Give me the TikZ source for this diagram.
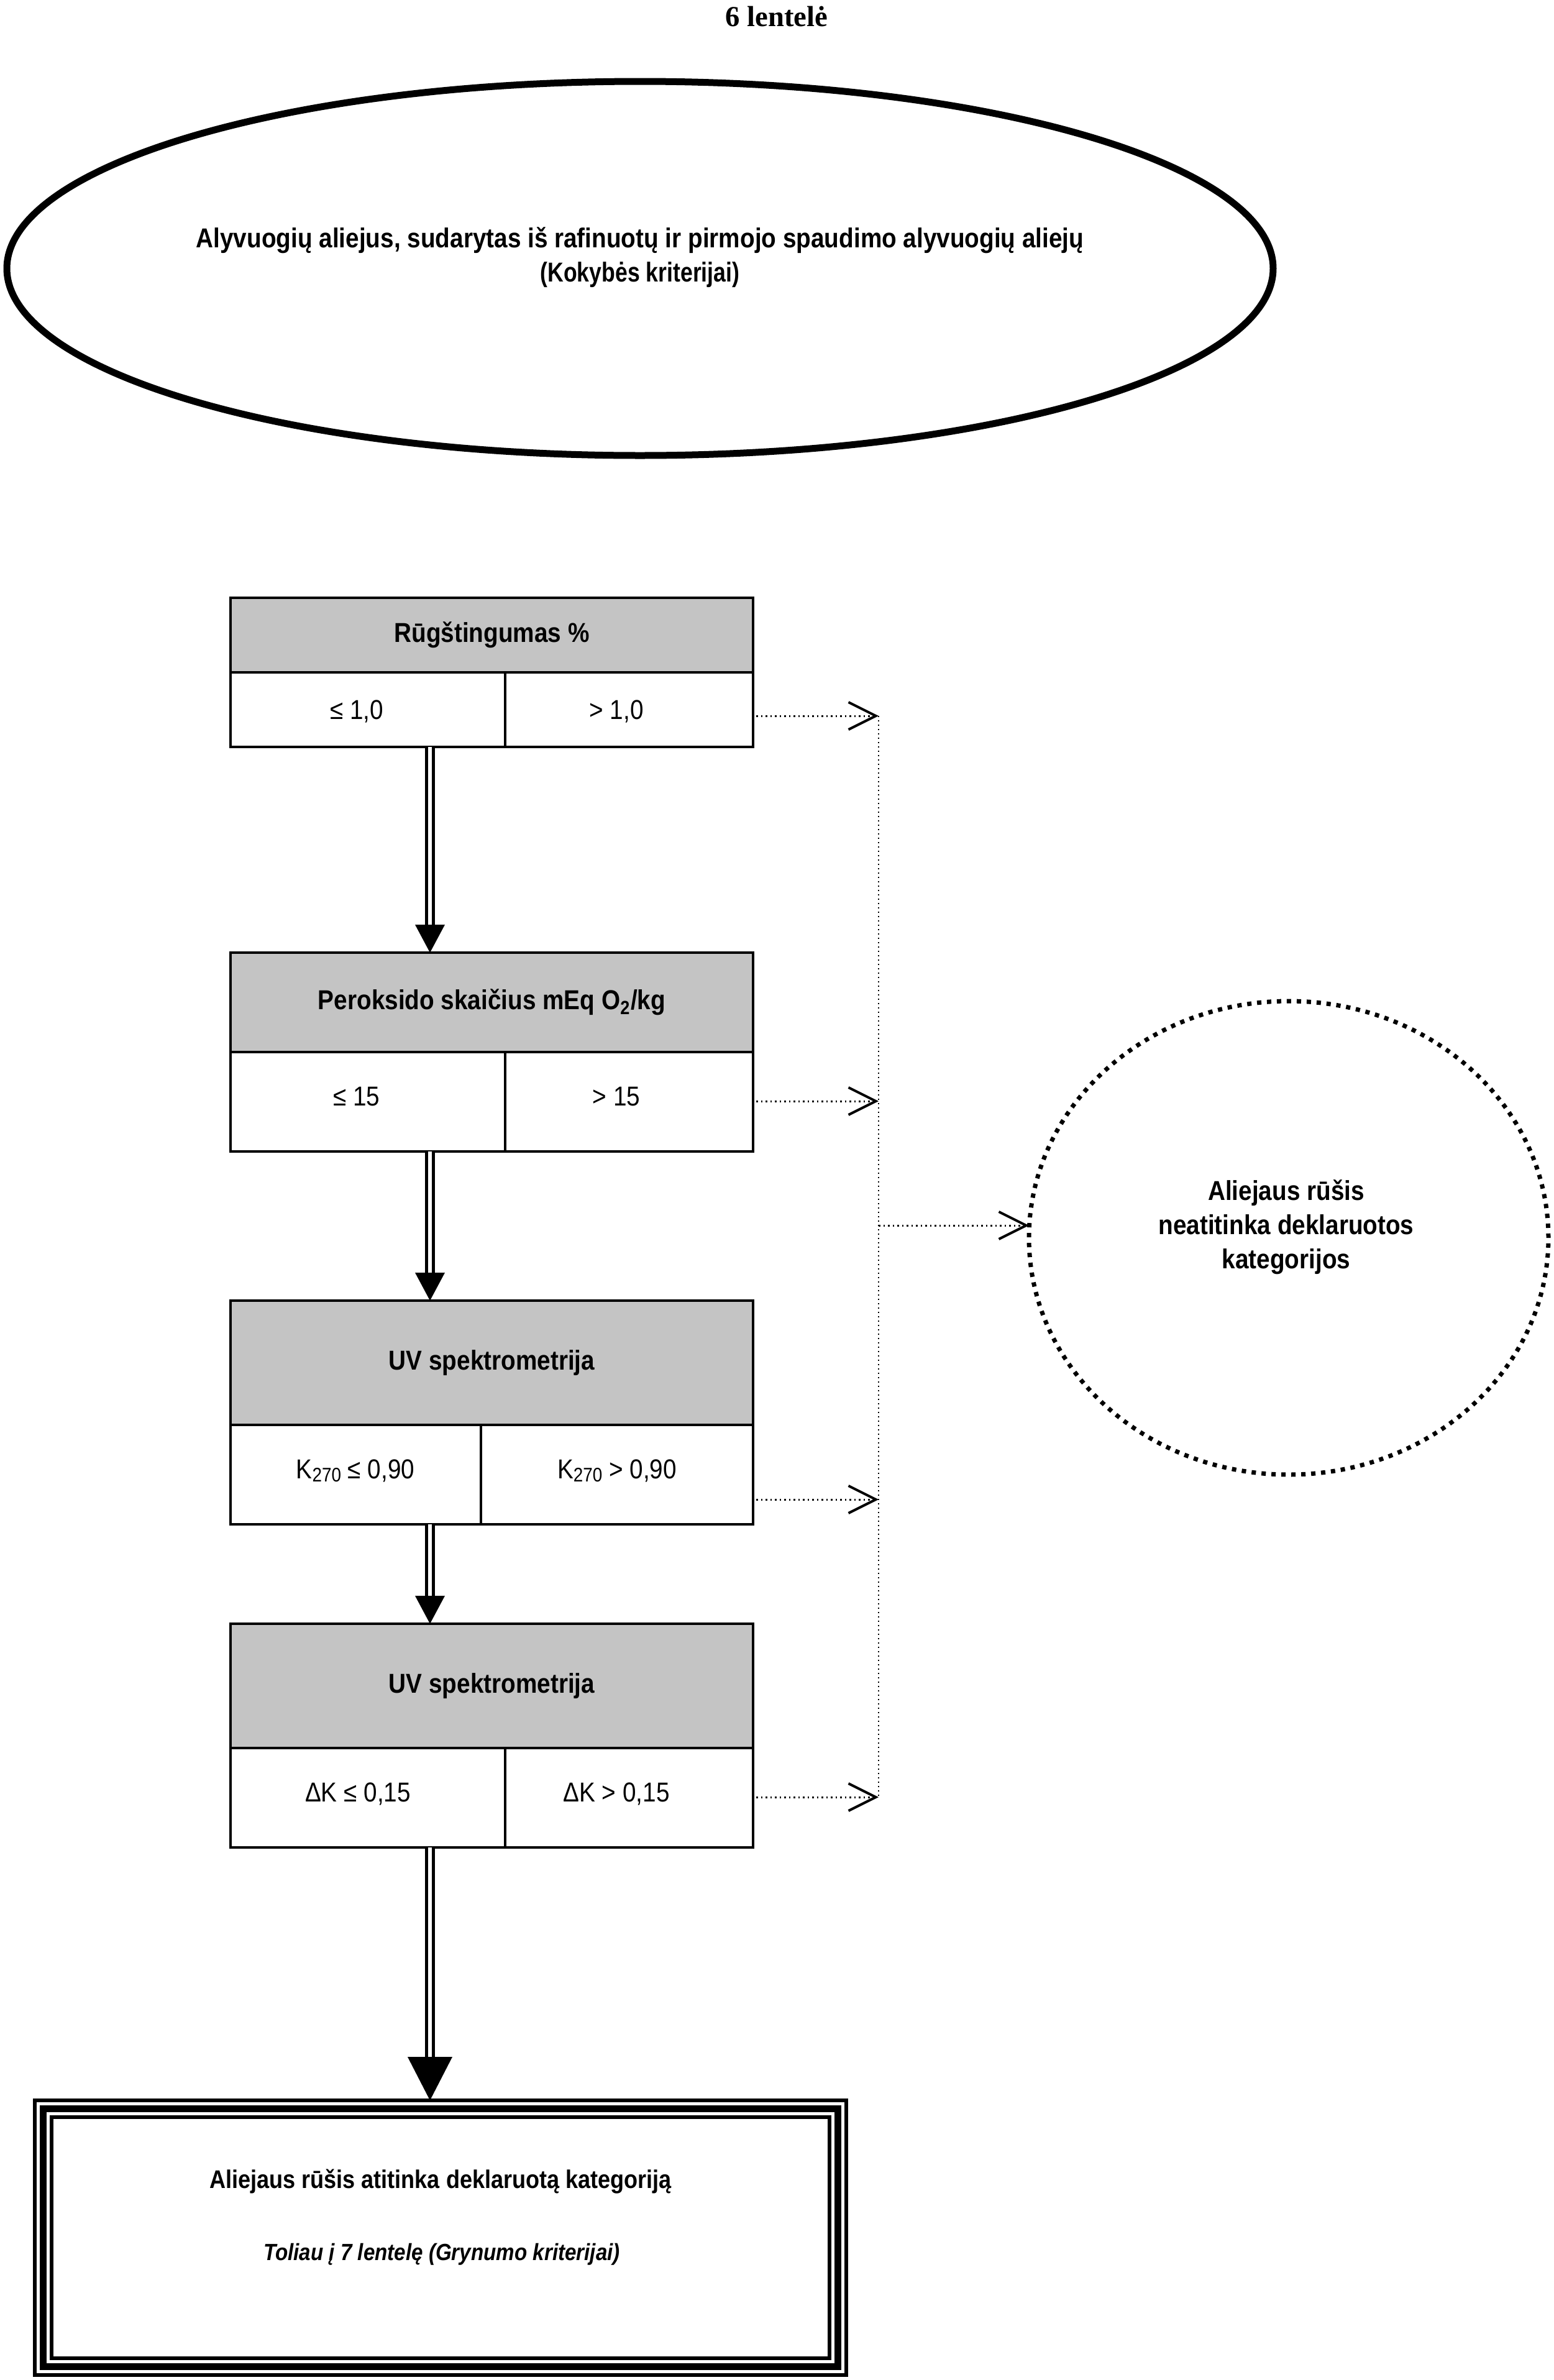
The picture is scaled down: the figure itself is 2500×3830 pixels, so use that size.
\documentclass[tikz,border=0pt]{standalone}
\usepackage{fontspec}
\usepackage{graphicx}
\setmainfont{Liberation Sans}[FakeStretch=0.88]
\newfontfamily\titlefont{Liberation Serif}
\usetikzlibrary{shapes.geometric,arrows.meta}
\definecolor{hdrgray}{RGB}{196,196,196}
\newcommand\fsMain{\fontsize{13.2pt}{16.5pt}\selectfont}
\newcommand\fsFin{\fontsize{12.3pt}{14pt}\selectfont}
\newcommand\fsSmall{\fontsize{11.3pt}{13pt}\selectfont}
\newcommand\lowsub[1]{\raisebox{-0.12em}{\fontsize{9.5pt}{10pt}\selectfont #1}}
\begin{document}
\begin{tikzpicture}[x=0.3pt,y=-0.3pt,
  every node/.style={inner sep=0pt, outer sep=0pt},
  hdr/.style={draw, line width=1.05pt, fill=hdrgray, anchor=north west, font=\fsMain\bfseries},
  cell/.style={draw, line width=1.05pt, fill=white, anchor=north west},
  celltext/.style={font=\fsMain},
  dotarrow/.style={line width=0.9pt, dash pattern=on 0.75pt off 1.5pt, -{Straight Barb[length=13.2pt, width=13.2pt, line width=1.2pt]}},
  vdotline/.style={line width=0.6pt, dash pattern=on 0.6pt off 1.5pt},
  dbl/.style={line width=1.5pt, double distance=1.8pt, double=white},
]
\useasboundingbox (0,0) rectangle (2500,3830);

% title
\node[font=\titlefont\bfseries\fontsize{14pt}{16pt}\selectfont, anchor=base] (title) at (1250,42) {6 lentelė};

% top ellipse
\node[ellipse, draw, line width=3.3pt, minimum width=611.4pt, minimum height=180.6pt] (top) at (1030,432) {};
\node[font=\fsMain\bfseries, align=center] (toptext) at (1030,414) {Alyvuogių aliejus, sudarytas iš rafinuotų ir pirmojo spaudimo alyvuogių aliejų\\\scalebox{0.92}[1]{(Kokybės kriterijai)}};

% box 1
\node[hdr, minimum width=252.3pt, minimum height=36pt] (h1) at (371,962) {Rūgštingumas \%};
\node[cell, minimum width=132.6pt, minimum height=36pt] (l1) at (371,1082) {};
\node[cell, minimum width=119.7pt, minimum height=36pt] (r1) at (813,1082) {};
\node[celltext] (l1t) at (574,1145) {≤ 1,0};
\node[celltext] (r1t) at (992,1145) {> 1,0};

% box 2
\node[hdr, minimum width=252.3pt, minimum height=48pt] (h2) at (371,1533) {Peroksido skaičius mEq O\textsubscript{2}/kg};
\node[cell, minimum width=132.6pt, minimum height=48pt] (l2) at (371,1693) {};
\node[cell, minimum width=119.7pt, minimum height=48pt] (r2) at (813,1693) {};
\node[celltext] (l2t) at (574,1765) {≤ 15};
\node[celltext] (r2t) at (992,1765) {> 15};

% box 3
\node[hdr, minimum width=252.3pt, minimum height=60pt] (h3) at (371,2093) {UV spektrometrija};
\node[cell, minimum width=120.9pt, minimum height=48pt] (l3) at (371,2293) {};
\node[cell, minimum width=131.4pt, minimum height=48pt] (r3) at (774,2293) {};
\node[celltext] (l3t) at (572,2367) {K\lowsub{270} ≤ 0,90};
\node[celltext] (r3t) at (993,2367) {K\lowsub{270} > 0,90};

% box 4
\node[hdr, minimum width=252.3pt, minimum height=60pt] (h4) at (371,2613) {UV spektrometrija};
\node[cell, minimum width=132.6pt, minimum height=48pt] (l4) at (371,2813) {};
\node[cell, minimum width=119.7pt, minimum height=48pt] (r4) at (813,2813) {};
\node[celltext] (l4t) at (576,2887) {ΔK ≤ 0,15};
\node[celltext] (r4t) at (992,2887) {ΔK > 0,15};

% right circle
\node[ellipse, draw, line width=2.1pt, dash pattern=on 2.1pt off 2.7pt, minimum width=250.8pt, minimum height=228.6pt] (circ) at (2074,1992) {};
\node[font=\fsMain\bfseries, align=center] (circtext) at (2070,1975) {Aliejaus rūšis\\neatitinka deklaruotos\\kategorijos};

% final box
\node[draw, line width=1.8pt, minimum width=391.8pt, minimum height=132.6pt] (finA) at (709,3601) {};
\node[draw, line width=3.3pt, minimum width=383.7pt, minimum height=124.5pt] (finB) at (709,3601) {};
\node[draw, line width=1.8pt, minimum width=375.6pt, minimum height=116.4pt] (fin) at (709,3601) {};
\node[font=\fsFin\bfseries] (fintext1) at (709,3510) {Aliejaus rūšis atitinka deklaruotą kategoriją};
\node[font=\fsSmall\bfseries\itshape] (fintext2) at (711,3628) {Toliau į 7 lentelę (Grynumo kriterijai)};

% double arrows
\coordinate (ax) at (692,0);
\draw[dbl, shorten >=12pt] (ax |- l1.south) -- (ax |- h2.north);
\fill (ax |- h2.north) -- ++(-24,-45) -- ++(48,0) -- cycle;
\draw[dbl, shorten >=12pt] (ax |- l2.south) -- (ax |- h3.north);
\fill (ax |- h3.north) -- ++(-24,-45) -- ++(48,0) -- cycle;
\draw[dbl, shorten >=12pt] (ax |- l3.south) -- (ax |- h4.north);
\fill (ax |- h4.north) -- ++(-24,-45) -- ++(48,0) -- cycle;
\draw[dbl, shorten >=19pt] (ax |- l4.south) -- (ax |- finA.north);
\fill (ax |- finA.north) -- ++(-36,-70) -- ++(72,0) -- cycle;

% dotted connectors
\coordinate (v1) at (1414,1152);
\coordinate (v2) at (1414,1772);
\coordinate (v3) at (1414,2413);
\coordinate (v4) at (1414,2892);
\coordinate (vc) at (1414,1972);
\draw[vdotline] (v1) -- (v4);
\draw[dotarrow, shorten <=1.5pt] (r1.east |- v1) -- (v1);
\draw[dotarrow, shorten <=1.5pt] (r2.east |- v2) -- (v2);
\draw[dotarrow, shorten <=1.5pt] (r3.east |- v3) -- (v3);
\draw[dotarrow, shorten <=1.5pt] (r4.east |- v4) -- (v4);
\draw[dotarrow] (vc) -- (vc -| circ.west);
\end{tikzpicture}
\end{document}
